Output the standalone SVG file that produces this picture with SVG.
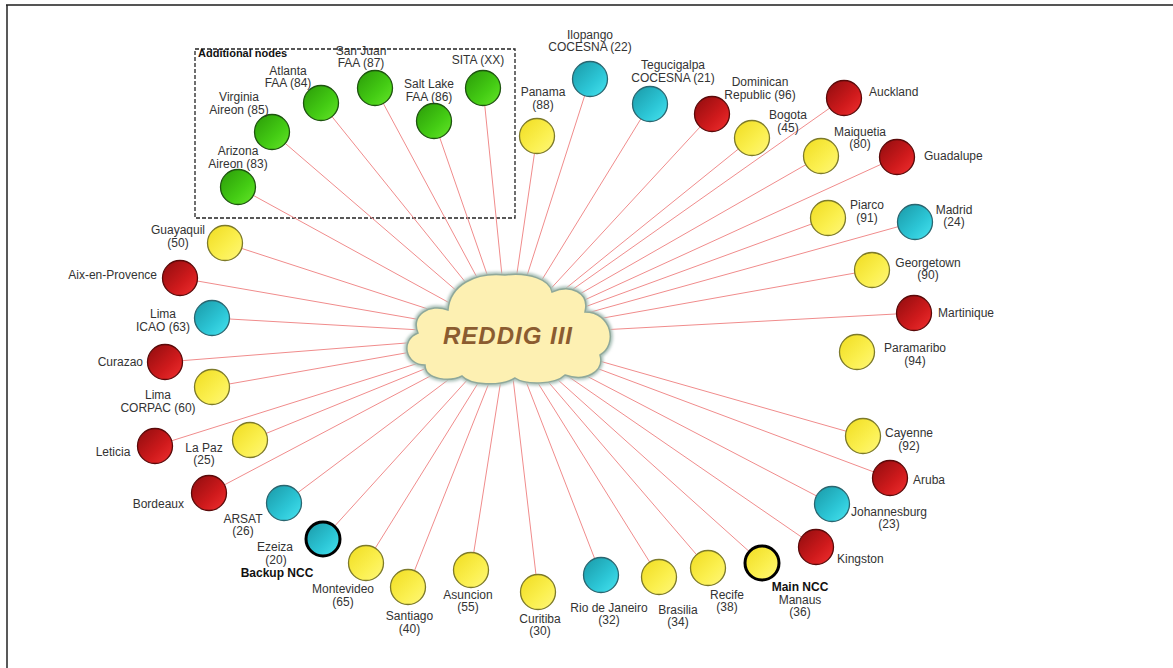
<svg xmlns="http://www.w3.org/2000/svg" width="1173" height="668" viewBox="0 0 1173 668">
<defs>
<linearGradient id="gY" x1="0" y1="0" x2="1" y2="1"><stop offset="0" stop-color="#f0dc20"/><stop offset="0.6" stop-color="#fbf050"/><stop offset="1" stop-color="#fff77a"/></linearGradient>
<linearGradient id="gR" x1="0" y1="0" x2="1" y2="1"><stop offset="0" stop-color="#8e0c0e"/><stop offset="0.6" stop-color="#cf1a1c"/><stop offset="1" stop-color="#f23030"/></linearGradient>
<linearGradient id="gC" x1="0" y1="0" x2="1" y2="1"><stop offset="0" stop-color="#1a98a6"/><stop offset="0.6" stop-color="#2cc6d6"/><stop offset="1" stop-color="#48e4f0"/></linearGradient>
<linearGradient id="gG" x1="0" y1="0" x2="1" y2="1"><stop offset="0" stop-color="#2a9a08"/><stop offset="0.6" stop-color="#44cc14"/><stop offset="1" stop-color="#66e62a"/></linearGradient>
<filter id="glow" x="-10%" y="-10%" width="120%" height="120%"><feGaussianBlur stdDeviation="1.5"/></filter>
</defs>
<style>
.y{fill:url(#gY);stroke:#7d7a2a;stroke-width:1.3}
.r{fill:url(#gR);stroke:#5a0a0a;stroke-width:1.3}
.c{fill:url(#gC);stroke:#2b6670;stroke-width:1.3}
.g{fill:url(#gG);stroke:#1e5410;stroke-width:1.3}
.ncc{stroke:#000;stroke-width:3}
text{font-family:"Liberation Sans",Arial,sans-serif;font-size:12px;fill:#333}
.m{text-anchor:middle}
.e{text-anchor:end}
.b{font-weight:bold;fill:#111}
.ln{stroke:#f08c8c;stroke-width:1}
</style>
<rect width="1173" height="668" fill="#fff"/>
<line x1="6" y1="5" x2="1173" y2="5" stroke="#555" stroke-width="2"/>
<line x1="7" y1="5" x2="7" y2="668" stroke="#222" stroke-width="1.5"/>
<rect x="195" y="49" width="320" height="169" fill="none" stroke="#222" stroke-width="1.3" stroke-dasharray="4,2"/>
<text x="198" y="57" class="b" style="font-size:11px">Additional nodes</text>
<g id="connectors">
<line class="ln" x1="238" y1="187" x2="508" y2="335"/>
<line class="ln" x1="272" y1="132" x2="508" y2="335"/>
<line class="ln" x1="321" y1="103" x2="508" y2="335"/>
<line class="ln" x1="375" y1="88" x2="508" y2="335"/>
<line class="ln" x1="434" y1="121" x2="508" y2="335"/>
<line class="ln" x1="483" y1="88" x2="508" y2="335"/>
<line class="ln" x1="537" y1="136" x2="508" y2="335"/>
<line class="ln" x1="590" y1="79" x2="508" y2="335"/>
<line class="ln" x1="650" y1="104" x2="508" y2="335"/>
<line class="ln" x1="712" y1="114" x2="508" y2="335"/>
<line class="ln" x1="752" y1="138" x2="508" y2="335"/>
<line class="ln" x1="844" y1="98" x2="508" y2="335"/>
<line class="ln" x1="821" y1="156" x2="508" y2="335"/>
<line class="ln" x1="897" y1="157" x2="508" y2="335"/>
<line class="ln" x1="828" y1="218" x2="508" y2="335"/>
<line class="ln" x1="915" y1="222" x2="508" y2="335"/>
<line class="ln" x1="872" y1="270" x2="508" y2="335"/>
<line class="ln" x1="914" y1="313" x2="508" y2="335"/>
<line class="ln" x1="863" y1="436" x2="508" y2="335"/>
<line class="ln" x1="890" y1="478" x2="508" y2="335"/>
<line class="ln" x1="832" y1="504" x2="508" y2="335"/>
<line class="ln" x1="816" y1="547" x2="508" y2="335"/>
<line class="ln" x1="762" y1="563" x2="508" y2="335"/>
<line class="ln" x1="708" y1="568" x2="508" y2="335"/>
<line class="ln" x1="659" y1="577" x2="508" y2="335"/>
<line class="ln" x1="601" y1="575" x2="508" y2="335"/>
<line class="ln" x1="538" y1="592" x2="508" y2="335"/>
<line class="ln" x1="471" y1="570" x2="508" y2="335"/>
<line class="ln" x1="408" y1="587" x2="508" y2="335"/>
<line class="ln" x1="366" y1="563" x2="508" y2="335"/>
<line class="ln" x1="323" y1="539" x2="508" y2="335"/>
<line class="ln" x1="284" y1="503" x2="508" y2="335"/>
<line class="ln" x1="209" y1="493" x2="508" y2="335"/>
<line class="ln" x1="250" y1="440" x2="508" y2="335"/>
<line class="ln" x1="155" y1="446" x2="508" y2="335"/>
<line class="ln" x1="212" y1="387" x2="508" y2="335"/>
<line class="ln" x1="165" y1="362" x2="508" y2="335"/>
<line class="ln" x1="212" y1="318" x2="508" y2="335"/>
<line class="ln" x1="180" y1="278" x2="508" y2="335"/>
<line class="ln" x1="225" y1="243" x2="508" y2="335"/>
</g>
<g id="cloud">
<path d="M425,365 C405,365 400,340 418,333 C410,315 430,303 448,310 C450,285 475,272 505,275 C530,272 550,280 552,292 C570,284 590,292 585,312 C612,312 618,345 600,355 C605,372 585,382 565,375 C555,385 525,385 515,378 C500,387 470,385 462,376 C450,382 425,380 425,365 Z" fill="none" stroke="#a9c0b8" stroke-width="5" filter="url(#glow)"/>
<path d="M425,365 C405,365 400,340 418,333 C410,315 430,303 448,310 C450,285 475,272 505,275 C530,272 550,280 552,292 C570,284 590,292 585,312 C612,312 618,345 600,355 C605,372 585,382 565,375 C555,385 525,385 515,378 C500,387 470,385 462,376 C450,382 425,380 425,365 Z" fill="#fdf0b2" stroke="#8fa89a" stroke-width="1.5"/>
<text x="508" y="344" class="m" style="font-size:24px;font-weight:bold;font-style:italic;fill:#8b5c30;letter-spacing:1px">REDDIG III</text>
</g>
<g id="n83"><circle class="g" cx="238" cy="187" r="17.5"/><text class="m" x="238" y="155">Arizona</text><text class="m" x="238" y="168">Aireon (83)</text></g>
<g id="n85"><circle class="g" cx="272" cy="132" r="17.5"/><text class="m" x="239" y="101">Virginia</text><text class="m" x="239" y="114">Aireon (85)</text></g>
<g id="n84"><circle class="g" cx="321" cy="103" r="17.5"/><text class="m" x="288" y="74.5">Atlanta</text><text class="m" x="288" y="87">FAA (84)</text></g>
<g id="n87"><circle class="g" cx="375" cy="88" r="17.5"/><text class="m" x="361" y="54.5">San Juan</text><text class="m" x="361" y="67">FAA (87)</text></g>
<g id="n86"><circle class="g" cx="434" cy="121" r="17.5"/><text class="m" x="429" y="88">Salt Lake</text><text class="m" x="429" y="101">FAA (86)</text></g>
<g id="nXX"><circle class="g" cx="483" cy="88" r="17.5"/><text class="m" x="478" y="64">SITA (XX)</text></g>
<g id="n88"><circle class="y" cx="537" cy="136" r="17.5"/><text class="m" x="543" y="96">Panama</text><text class="m" x="543" y="108.5">(88)</text></g>
<g id="n22"><circle class="c" cx="590" cy="79" r="17.5"/><text class="m" x="590" y="38.5">Ilopango</text><text class="m" x="590" y="51">COCESNA (22)</text></g>
<g id="n21"><circle class="c" cx="650" cy="104" r="17.5"/><text class="m" x="673" y="69">Tegucigalpa</text><text class="m" x="673" y="81.5">COCESNA (21)</text></g>
<g id="n96"><circle class="r" cx="712" cy="114" r="17.5"/><text class="m" x="760" y="86">Dominican</text><text class="m" x="760" y="98.5">Republic (96)</text></g>
<g id="n45"><circle class="y" cx="752" cy="138" r="17.5"/><text class="m" x="788" y="119">Bogota</text><text class="m" x="788" y="131.5">(45)</text></g>
<g id="nAuckland"><circle class="r" cx="844" cy="98" r="17.5"/><text x="869" y="96">Auckland</text></g>
<g id="n80"><circle class="y" cx="821" cy="156" r="17.5"/><text class="m" x="860" y="135.5">Maiquetia</text><text class="m" x="860" y="148">(80)</text></g>
<g id="nGuadalupe"><circle class="r" cx="897" cy="157" r="17.5"/><text x="924" y="159.5">Guadalupe</text></g>
<g id="n91"><circle class="y" cx="828" cy="218" r="17.5"/><text class="m" x="867" y="209">Piarco</text><text class="m" x="867" y="221.5">(91)</text></g>
<g id="n24"><circle class="c" cx="915" cy="222" r="17.5"/><text class="m" x="954" y="213.5">Madrid</text><text class="m" x="954" y="226">(24)</text></g>
<g id="n90"><circle class="y" cx="872" cy="270" r="17.5"/><text class="m" x="928" y="266.5">Georgetown</text><text class="m" x="928" y="279">(90)</text></g>
<g id="nMartinique"><circle class="r" cx="914" cy="313" r="17.5"/><text x="938" y="317">Martinique</text></g>
<g id="n94"><circle class="y" cx="857" cy="352" r="17.5"/><text class="m" x="915" y="352">Paramaribo</text><text class="m" x="915" y="364.5">(94)</text></g>
<g id="n92"><circle class="y" cx="863" cy="436" r="17.5"/><text class="m" x="909" y="437">Cayenne</text><text class="m" x="909" y="449.5">(92)</text></g>
<g id="nAruba"><circle class="r" cx="890" cy="478" r="17.5"/><text x="913" y="484">Aruba</text></g>
<g id="n23"><circle class="c" cx="832" cy="504" r="17.5"/><text class="m" x="889" y="515.5">Johannesburg</text><text class="m" x="889" y="528">(23)</text></g>
<g id="nKingston"><circle class="r" cx="816" cy="547" r="17.5"/><text x="837" y="562.5">Kingston</text></g>
<g id="n36"><circle class="y ncc" cx="762" cy="563" r="17"/><text class="m b" x="800" y="591">Main NCC</text><text class="m" x="800" y="603.5">Manaus</text><text class="m" x="800" y="616">(36)</text></g>
<g id="n38"><circle class="y" cx="708" cy="568" r="17.5"/><text class="m" x="727" y="598.5">Recife</text><text class="m" x="727" y="611">(38)</text></g>
<g id="n34"><circle class="y" cx="659" cy="577" r="17.5"/><text class="m" x="678" y="613.5">Brasilia</text><text class="m" x="678" y="626">(34)</text></g>
<g id="n32"><circle class="c" cx="601" cy="575" r="17.5"/><text class="m" x="609" y="611.5">Rio de Janeiro</text><text class="m" x="609" y="624">(32)</text></g>
<g id="n30"><circle class="y" cx="538" cy="592" r="17.5"/><text class="m" x="540" y="622.5">Curitiba</text><text class="m" x="540" y="635">(30)</text></g>
<g id="n55"><circle class="y" cx="471" cy="570" r="17.5"/><text class="m" x="468" y="598.5">Asuncion</text><text class="m" x="468" y="611">(55)</text></g>
<g id="n40"><circle class="y" cx="408" cy="587" r="17.5"/><text class="m" x="409.5" y="620">Santiago</text><text class="m" x="409.5" y="632.5">(40)</text></g>
<g id="n65"><circle class="y" cx="366" cy="563" r="17.5"/><text class="m" x="343" y="593">Montevideo</text><text class="m" x="343" y="605.5">(65)</text></g>
<g id="n20"><circle class="c ncc" cx="323" cy="539" r="17"/><text class="m" x="275" y="551">Ezeiza</text><text class="m" x="276" y="563.5">(20)</text><text class="m b" x="277" y="576.5">Backup NCC</text></g>
<g id="n26"><circle class="c" cx="284" cy="503" r="17.5"/><text class="m" x="243" y="522.5">ARSAT</text><text class="m" x="243" y="535">(26)</text></g>
<g id="nBordeaux"><circle class="r" cx="209" cy="493" r="17.5"/><text class="e" x="184" y="507.5">Bordeaux</text></g>
<g id="n25"><circle class="y" cx="250" cy="440" r="17.5"/><text class="m" x="204" y="451.5">La Paz</text><text class="m" x="204" y="464">(25)</text></g>
<g id="nLeticia"><circle class="r" cx="155" cy="446" r="17.5"/><text class="m" x="113" y="456">Leticia</text></g>
<g id="n60"><circle class="y" cx="212" cy="387" r="17.5"/><text class="m" x="158" y="399">Lima</text><text class="m" x="158" y="411.5">CORPAC (60)</text></g>
<g id="nCurazao"><circle class="r" cx="165" cy="362" r="17.5"/><text class="e" x="143" y="366">Curazao</text></g>
<g id="n63"><circle class="c" cx="212" cy="318" r="17.5"/><text class="m" x="163" y="318">Lima</text><text class="m" x="163" y="331">ICAO (63)</text></g>
<g id="nAix"><circle class="r" cx="180" cy="278" r="17.5"/><text class="e" x="157" y="279">Aix-en-Provence</text></g>
<g id="n50"><circle class="y" cx="225" cy="243" r="17.5"/><text class="m" x="178" y="234">Guayaquil</text><text class="m" x="178" y="246.5">(50)</text></g>
</svg>
